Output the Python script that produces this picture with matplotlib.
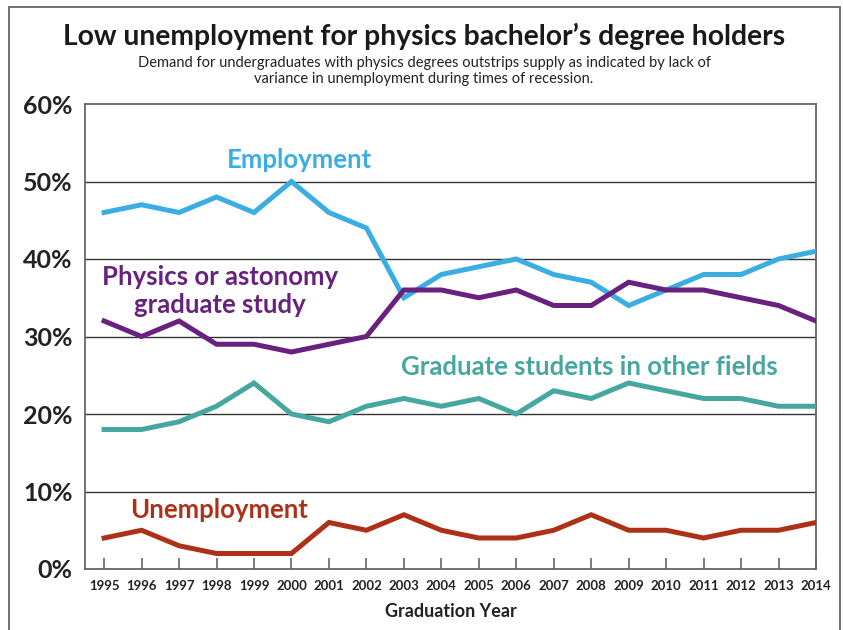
import matplotlib
matplotlib.use('Agg')
import matplotlib.pyplot as plt
from matplotlib.patches import Rectangle

# data (percent)
years = list(range(1995, 2015))
employment = [46, 47, 46, 48, 46, 50, 46, 44, 35, 38, 39, 40, 38, 37, 34, 36, 38, 38, 40, 41]
physics_grad = [32, 30, 32, 29, 29, 28, 29, 30, 36, 36, 35, 36, 34, 34, 37, 36, 36, 35, 34, 32]
other_grad = [18, 18, 19, 21, 24, 20, 19, 21, 22, 21, 22, 20, 23, 22, 24, 23, 22, 22, 21, 21]
unemployment = [4, 5, 3, 2, 2, 2, 6, 5, 7, 5, 4, 4, 5, 7, 5, 5, 4, 5, 5, 6]
y_ticks = [0, 10, 20, 30, 40, 50, 60]

blue = '#3aade3'
purple = '#68217f'
teal = '#45a7a0'
red = '#ad3118'

fig = plt.figure(figsize=(8.43, 6.3), dpi=100)
ax = fig.add_axes([85 / 843, 1 - 569 / 630, (816 - 85) / 843, (569 - 104) / 630])

# outer frame around the whole figure
fig.patches.append(Rectangle((9 / 843, -0.1), 831 / 843, 1.089, transform=fig.transFigure,
                             fill=False, edgecolor='#666666', lw=1.3, clip_on=False))

lw = 3.6
ax.plot(years, employment, color=blue, lw=lw, solid_joinstyle='miter', zorder=3)
ax.plot(years, physics_grad, color=purple, lw=lw, solid_joinstyle='miter', zorder=3)
ax.plot(years, other_grad, color=teal, lw=lw, solid_joinstyle='miter', zorder=3)
ax.plot(years, unemployment, color=red, lw=lw, solid_joinstyle='miter', zorder=3)

ax.set_xlim(1994.49, 2014)
ax.set_ylim(0, 60)
for v in y_ticks[1:-1]:
    ax.axhline(v, color='#333333', lw=1.0, zorder=1)

for s in ax.spines.values():
    s.set_color('#666666')
    s.set_linewidth(1.3)

ax.set_yticks(y_ticks)
ax.set_yticklabels([f'{v}%' for v in y_ticks], fontsize=18, fontweight='bold',
                   family='Lato', color='#222222')
ax.tick_params(axis='y', length=0, pad=9)
ax.set_xticks(years)
ax.set_xticklabels([str(y) for y in years], fontsize=9.5, fontweight='bold',
                   family='Lato', color='#222222')
ax.tick_params(axis='x', direction='in', length=8, width=1.2, color='#666666', pad=8)
ax.set_xlabel('Graduation Year', fontsize=13, fontweight='bold', family='Lato',
              color='#222222', labelpad=8)

# series labels
lab = dict(fontsize=18.5, fontweight='bold', family='Lato', ha='center', va='center')
ax.text(2000.2, 52.8, 'Employment', color=blue, **lab)
ax.text(1998.1, 35.9, 'Physics or astonomy\ngraduate study', color=purple,
        linespacing=1.2, **lab)
ax.text(2007.95, 26.1, 'Graduate students in other fields', color=teal, **lab)
ax.text(1998.07, 7.6, 'Unemployment', color=red, **lab)

fig.text(0.503, 1 - 36 / 630, "Low unemployment for physics bachelor\u2019s degree holders",
         ha='center', va='center', fontsize=20.3, fontweight='bold', family='Lato', color='#1a1a1a')
fig.text(0.503, 1 - 71 / 630,
         'Demand for undergraduates with physics degrees outstrips supply as indicated by lack of\n'
         'variance in unemployment during times of recession.',
         ha='center', va='center', fontsize=10.5, family='Lato', color='#222222', linespacing=1.25)

fig.savefig('out.png', dpi=100)
